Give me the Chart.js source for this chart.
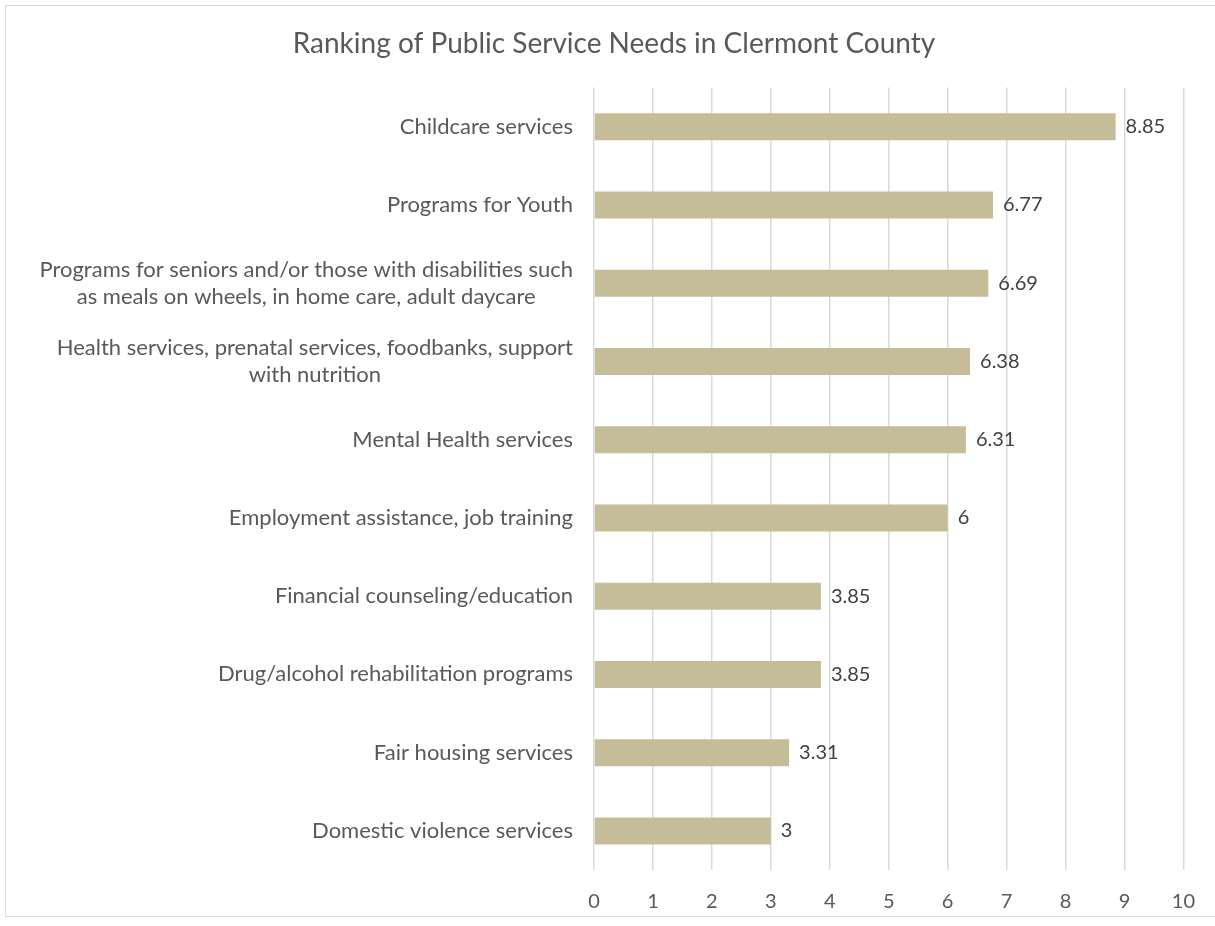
<!DOCTYPE html>
<html lang="en">
  <head>
    <meta charset="UTF-8" />
    <title>Ranking of Public Service Needs in Clermont County</title>
    <script src="https://cdn.jsdelivr.net/npm/chart.js@4.4.1/dist/chart.umd.min.js"></script>
    <style>
      html, body {
        margin: 0;
        padding: 0;
        background: #ffffff;
        overflow: hidden;
      }
      #frame {
        position: absolute;
        left: 5px;
        top: 5px;
        width: 1230px;
        height: 910px;
        border: 1px solid #d9d9d9;
      }
      #wrap {
        position: absolute;
        left: 0;
        top: 0;
        width: 1215px;
        height: 926px;
      }
    </style>
  </head>
  <body>
    <div id="frame"></div>
    <div id="wrap"><canvas id="myChart" width="1215" height="926"></canvas></div>

    <script>
      // survey rankings, highest need first
      const services = [
        ["Childcare services"],
        ["Programs for Youth"],
        ["Programs for seniors and/or those with disabilities such", "as meals on wheels, in home care, adult daycare"],
        ["Health services, prenatal services, foodbanks, support", "with nutrition"],
        ["Mental Health services"],
        ["Employment assistance, job training"],
        ["Financial counseling/education"],
        ["Drug/alcohol rehabilitation programs"],
        ["Fair housing services"],
        ["Domestic violence services"]
      ];
      const scores = [8.85, 6.77, 6.69, 6.38, 6.31, 6, 3.85, 3.85, 3.31, 3];
      const xTicks = [0, 1, 2, 3, 4, 5, 6, 7, 8, 9, 10];

      const FONT = "Lato, 'Open Sans', sans-serif";
      const TEXT = "#595959";

      // category names, right aligned as a block, lines centred inside it
      const categoryLabels = {
        id: "categoryLabels",
        afterDraw(chart) {
          const ctx = chart.ctx;
          const y = chart.scales.y;
          const right = chart.chartArea.left - 21;
          const lineH = 27;
          ctx.save();
          ctx.font = "22px " + FONT;
          ctx.fillStyle = TEXT;
          ctx.textAlign = "center";
          ctx.textBaseline = "middle";
          services.forEach((lines, i) => {
            const cy = y.getPixelForTick(i);
            const w = Math.max(...lines.map(l => ctx.measureText(l).width));
            const cx = right - w / 2;
            const y0 = cy - ((lines.length - 1) * lineH) / 2;
            lines.forEach((l, k) => ctx.fillText(l, cx, y0 + k * lineH));
          });
          ctx.restore();
        }
      };

      // value written just past the end of each bar
      const valueLabels = {
        id: "valueLabels",
        afterDatasetsDraw(chart) {
          const ctx = chart.ctx;
          const meta = chart.getDatasetMeta(0);
          ctx.save();
          ctx.font = "20px " + FONT;
          ctx.fillStyle = "#404040";
          ctx.textAlign = "left";
          ctx.textBaseline = "middle";
          meta.data.forEach((bar, i) => {
            ctx.fillText(String(scores[i]), bar.x + 10, bar.y);
          });
          ctx.restore();
        }
      };

      const ctx = document.getElementById("myChart").getContext("2d");
      const myChart = new Chart(ctx, {
        type: "bar",
        data: {
          labels: services.map(s => s.join(" ")),
          datasets: [
            {
              data: scores,
              backgroundColor: "#c4bd97",
              borderWidth: 0,
              categoryPercentage: 1,
              barPercentage: 0.345
            }
          ]
        },
        options: {
          indexAxis: "y",
          responsive: false,
          animation: false,
          layout: { padding: { left: 44, right: 31, top: 0, bottom: 0 } },
          plugins: {
            legend: { display: false },
            tooltip: { enabled: false },
            title: {
              display: true,
              text: "Ranking of Public Service Needs in Clermont County",
              color: TEXT,
              font: { family: FONT, size: 28, weight: "normal" },
              padding: { top: 27, bottom: 27 }
            }
          },
          scales: {
            x: {
              min: 0,
              max: 10,
              afterBuildTicks(scale) {
                scale.ticks = xTicks.map(v => ({ value: v }));
              },
              afterFit(scale) {
                scale.height = 56;
              },
              grid: { color: "#d9d9d9", lineWidth: 1.5, drawTicks: false },
              border: { display: false },
              ticks: {
                color: TEXT,
                padding: 20,
                font: { family: FONT, size: 20 }
              }
            },
            y: {
              afterFit(scale) {
                scale.width = 550;
              },
              grid: { display: false },
              border: { display: false },
              ticks: { display: false }
            }
          }
        },
        plugins: [categoryLabels, valueLabels]
      });
    </script>
  </body>
</html>
